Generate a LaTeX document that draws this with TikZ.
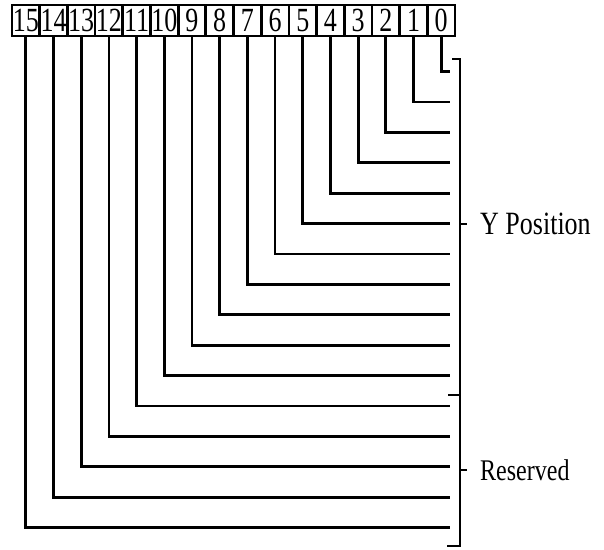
\documentclass[tikz,border=0pt]{standalone}
\usepackage{fontspec}
\setmainfont{Liberation Serif}
\begin{document}
\begin{tikzpicture}[x=1pt,y=-1pt,
  bitbox/.style={draw, rectangle, line width=2.8pt, minimum width=27.7pt, minimum height=31pt, inner sep=0pt, font=\fontsize{26}{26}\selectfont},
  wire/.style={line width=2.8pt},
  lbl/.style={anchor=west, inner sep=0pt}]
\useasboundingbox (0,0) rectangle (604,549);
\foreach \k in {0,...,15} {
  \pgfmathsetmacro\xc{12+27.69*(15-\k+0.5)}
  \node[bitbox] (b\k) at (\xc,20.5) {\scalebox{1}[1.3]{\k}};
}
\foreach \k in {0,...,15} {
  \pgfmathsetmacro\yc{71.5+30.4*\k}
  \coordinate (e\k) at (450,\yc);
  \draw[wire] (b\k.south) |- (e\k);
}
\coordinate (bt) at (460,59);
\coordinate (bs) at (460,395);
\coordinate (bb) at (460,546);
\coordinate (bm1) at (460,224);
\coordinate (bm2) at (460,470);
\coordinate (tt) at (452,59);
\coordinate (ts) at (448,395);
\coordinate (tb) at (447,546);
\coordinate (tm1) at (467,224);
\coordinate (tm2) at (467,470);
\draw[wire] (tt) -- (bt) -- (bb) -- (tb);
\draw[wire] (ts) -- (bs);
\draw[wire] (bm1) -- (tm1);
\draw[wire] (bm2) -- (tm2);
\node[lbl, font=\fontsize{26}{26}\selectfont] (ypos) at (480,224) {\scalebox{1}[1.25]{Y Position}};
\node[lbl, font=\fontsize{24}{24}\selectfont] (resv) at (480,470) {\scalebox{1}[1.25]{Reserved}};
\end{tikzpicture}
\end{document}
